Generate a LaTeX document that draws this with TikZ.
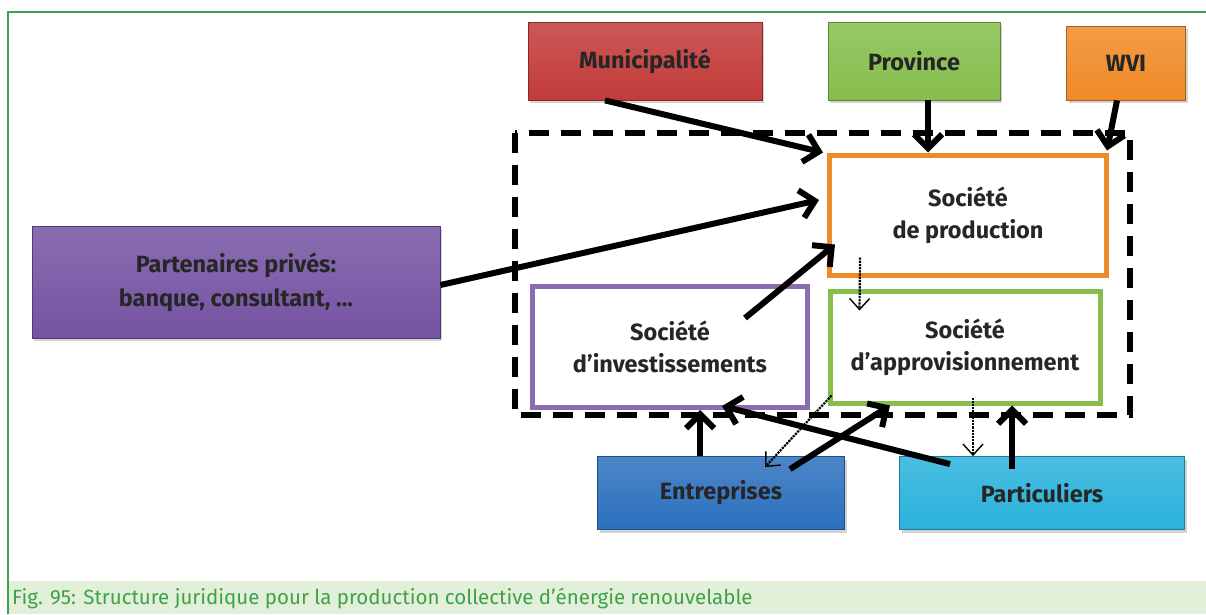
\documentclass[tikz,border=0pt]{standalone}
\usepackage{fontspec}
\setmainfont{Fira Sans}
\usetikzlibrary{arrows.meta,calc,shadows}

\definecolor{txt}{HTML}{262626}
\definecolor{cadre}{HTML}{3FA14A}
\definecolor{bande}{HTML}{E2EFD9}
\definecolor{rouge}{HTML}{C23B39}
\definecolor{vert}{HTML}{86BE4C}
\definecolor{orange}{HTML}{F08A26}
\definecolor{violet}{HTML}{7553A3}
\definecolor{bleu}{HTML}{2C70BE}
\definecolor{cyan}{HTML}{2AB2DC}

\tikzset{
  acteur/.style={draw=#1!70!black,line width=0.8pt,top color=#1!85!white,bottom color=#1,
    drop shadow={opacity=0.35,shadow xshift=2pt,shadow yshift=-3pt},
    text=txt,font=\fontsize{23.5}{34}\selectfont\bfseries,align=center,inner sep=0pt},
  societe/.style={draw=#1,line width=5pt,fill=white,text=txt,
    font=\fontsize{23.5}{32}\selectfont\bfseries,align=center,inner sep=0pt},
  fleche/.style={line width=6pt,-{Straight Barb[length=14pt,width=28pt]}},
  flux/.style={line width=2.2pt,densely dotted,-{Straight Barb[length=11pt,width=20pt,line width=1.4pt]}}
}

\begin{document}
\begin{tikzpicture}[x=1pt,y=-1pt]
\useasboundingbox (0,0) rectangle (1206,614);
% cadre et legende
\fill[bande] (9,581) rectangle (1206,614);
\draw[cadre,line width=1.5pt] (1206,12) -- (8,12) -- (8,614);
\node[anchor=west,text=cadre,font=\fontsize{20.5}{22}\selectfont,inner sep=0pt] (legende) at (12,598)
  {Fig. 95: Structure juridique pour la production collective d’énergie renouvelable};

% acteurs
\node[acteur=rouge,minimum width=234,minimum height=78] (mun) at (645,61) {Municipalité};
\node[acteur=vert,minimum width=172,minimum height=78] (prov) at (914,61) {Province};
\node[acteur=orange,minimum width=119,minimum height=74] (wvi) at (1126,63) {WVI};
\node[acteur=violet,minimum width=408,minimum height=112] (part) at (236,282) {Partenaires privés:\\banque, consultant, ...};
\node[acteur=bleu,minimum width=247,minimum height=73] (entr) at (721,493) {Entreprises};
\node[acteur=cyan,minimum width=285,minimum height=73] (parti) at (1042,493) {Particuliers};

% structure
\draw[line width=6pt,dash pattern=on 20pt off 12pt] (515,133) rectangle (1130,415);
\node[societe=violet!85!white,minimum width=275,minimum height=121] (inv) at (670,347) {Société\\d’investissements};
\node[societe=orange,minimum width=277,minimum height=120] (prod) at (968,215) {Société\\de production};
\node[societe=vert,minimum width=270,minimum height=112] (appro) at (965,347) {Société\\d’approvisionnement};

% fleches
\draw[fleche] ($(mun.south)+(-40,0)$) -- ($(prod.north west)+(-4,0)$);
\draw[fleche] ($(prov.south)+(14,0)$) -- ($(prod.north)+(-40,0)$);
\draw[fleche] ($(wvi.south)+(-9,0)$) -- ($(prod.north east)+(-2,-2)$);
\draw[fleche] ($(part.east)+(0,3)$) -- ($(prod.west)+(-8,-15)$);
\draw[fleche] ($(inv.center)+(75,-29)$) -- ($(prod.south west)+(8,-33)$);
\draw[fleche] ($(entr.north)+(-21,0)$) -- ($(inv.south)+(30,0)$);
\draw[fleche] ($(entr.north)+(69,13)$) -- ($(appro.south)+(-75,0)$);
\draw[fleche] ($(parti.north)+(-92,8)$) -- ($(inv.south)+(52,-4)$);
\draw[fleche] ($(parti.north)+(-30,13)$) -- ($(appro.south)+(47,0)$);
\draw[flux] ($(prod.south west)+(33,-20)$) -- ($(appro.north west)+(32,22)$);
\draw[flux] ($(appro.south west)+(4,-10)$) -- ($(entr.north)+(44,11)$);
\draw[flux] ($(appro.south)+(8,-8)$) -- ($(parti.north)+(-69,0)$);
\end{tikzpicture}
\end{document}
